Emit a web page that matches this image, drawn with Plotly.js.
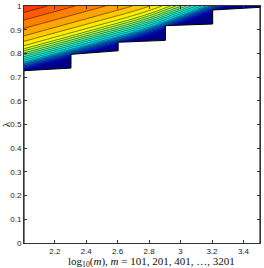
<!DOCTYPE html>
<html>
<head>
<meta charset="utf-8">
<script src="https://cdn.plot.ly/plotly-3.0.1.min.js"></script>
<style>html,body{margin:0;padding:0;background:#fff;}#chart{width:264px;height:268px;}</style>
</head>
<body>
<div id="chart"></div>
<script>
// grid columns (log10 m) and rows (lambda) of the sampled field
var gridX = [2.00, 2.11, 2.22, 2.33, 2.44, 2.55, 2.66, 2.76, 2.85, 2.93, 3.01, 3.09, 3.17, 3.25, 3.33, 3.41, 3.49, 3.57];
var gridLambda = [0.70, 0.72, 0.74, 0.76, 0.78, 0.80, 0.82, 0.84, 0.86, 0.88, 0.90, 0.92, 0.94, 0.96, 0.98, 1.00];
// field values (normalised colour level), one row per lambda
var fieldZ = [
  [0,0,0,0,0,0,0,0,0,0,0,0,0,0,0,0,0,0],
  [0.08,0,0,0,0,0,0,0,0,0,0,0,0,0,0,0,0,0],
  [0.20,0.08,0,0,0,0,0,0,0,0,0,0,0,0,0,0,0,0],
  [0.34,0.20,0.08,0,0,0,0,0,0,0,0,0,0,0,0,0,0,0],
  [0.43,0.34,0.20,0.08,0,0,0,0,0,0,0,0,0,0,0,0,0,0],
  [0.52,0.43,0.34,0.20,0.08,0,0,0,0,0,0,0,0,0,0,0,0,0],
  [0.60,0.52,0.43,0.34,0.20,0.08,0,0,0,0,0,0,0,0,0,0,0,0],
  [0.65,0.60,0.52,0.43,0.34,0.20,0.08,0,0,0,0,0,0,0,0,0,0,0],
  [0.68,0.65,0.60,0.52,0.43,0.34,0.20,0.08,0,0,0,0,0,0,0,0,0,0],
  [0.71,0.68,0.65,0.60,0.52,0.43,0.34,0.20,0.08,0,0,0,0,0,0,0,0,0],
  [0.73,0.71,0.68,0.65,0.60,0.52,0.43,0.34,0.20,0.08,0,0,0,0,0,0,0,0],
  [0.75,0.73,0.71,0.68,0.65,0.60,0.52,0.43,0.34,0.20,0.08,0,0,0,0,0,0,0],
  [0.77,0.75,0.73,0.71,0.68,0.65,0.60,0.52,0.43,0.34,0.20,0.08,0,0,0,0,0,0],
  [0.79,0.77,0.75,0.73,0.71,0.68,0.65,0.60,0.52,0.43,0.34,0.20,0.08,0,0,0,0,0],
  [0.815,0.79,0.77,0.75,0.73,0.71,0.68,0.65,0.60,0.52,0.43,0.34,0.20,0.08,0,0,0,0],
  [0.84,0.815,0.79,0.77,0.75,0.73,0.71,0.68,0.65,0.60,0.52,0.43,0.34,0.20,0.08,0,0,0]
];
// m values and lower lambda limit of the valid region at the start and end of each segment
var mValues = [101, 201, 401, 801, 1601, 3201];
var lambdaLowStart = [0.727, 0.796, 0.847, 0.917, 0.983];
var lambdaLowEnd = [0.738, 0.811, 0.855, 0.924, 0.9945];

var logM = mValues.map(function(m){ return Math.log10(m); });

var maskX = [logM[0]], maskY = [0];
for (var i = 0; i < lambdaLowStart.length; i++) {
  maskX.push(logM[i]); maskY.push(lambdaLowStart[i]);
  maskX.push(logM[i+1]); maskY.push(lambdaLowEnd[i]);
}
maskX.push(logM[logM.length-1]); maskY.push(0);

var jet = [[0,'rgb(0,0,143)'],[0.125,'rgb(0,0,255)'],[0.375,'rgb(0,255,255)'],[0.625,'rgb(255,255,0)'],[0.875,'rgb(255,0,0)'],[1,'rgb(128,0,0)']];

var traces = [
  {
    type: 'contour', x: gridX, y: gridLambda, z: fieldZ,
    colorscale: jet, zmin: 0, zmax: 1, zauto: false, showscale: false,
    contours: {coloring: 'fill', start: 0.035, end: 0.98, size: 0.035},
    line: {color: 'black', width: 0.5, smoothing: 0},
    hoverinfo: 'skip'
  },
  {
    type: 'scatter', mode: 'lines', x: maskX, y: maskY,
    fill: 'toself', fillcolor: 'white',
    line: {color: 'black', width: 1, shape: 'linear'},
    hoverinfo: 'skip', showlegend: false
  }
];

var axisCommon = {
  showgrid: false, zeroline: false, showline: true, linecolor: '#333', linewidth: 1,
  mirror: 'ticks', ticks: 'inside', ticklen: 3, tickwidth: 1, tickcolor: '#333',
  tickfont: {family: 'Liberation Sans, Arial, sans-serif', size: 8, color: '#222'}
};

var layout = {
  width: 264, height: 268,
  margin: {l: 24, r: 4, t: 6, b: 25},
  paper_bgcolor: 'white', plot_bgcolor: 'white',
  showlegend: false,
  xaxis: Object.assign({}, axisCommon, {
    range: [Math.log10(101), Math.log10(3201)], tick0: 2.2, dtick: 0.2
  }),
  yaxis: Object.assign({}, axisCommon, {
    range: [0, 1], tick0: 0, dtick: 0.1,
    title: {text: 'λ', font: {family: 'Liberation Serif, DejaVu Serif, serif', size: 11, color: '#111'}, standoff: 4}
  }),
  annotations: [{
    xref: 'paper', yref: 'paper', x: 0.542, y: -0.08, xanchor: 'center', yanchor: 'middle',
    showarrow: false,
    text: 'log<sub>10</sub>(<i>m</i>), <i>m</i> = 101, 201, 401, …, 3201',
    font: {family: 'Liberation Serif, DejaVu Serif, serif', size: 11, color: '#111'}
  }]
};

Plotly.newPlot('chart', traces, layout, {staticPlot: true, displayModeBar: false});
</script>
</body>
</html>
